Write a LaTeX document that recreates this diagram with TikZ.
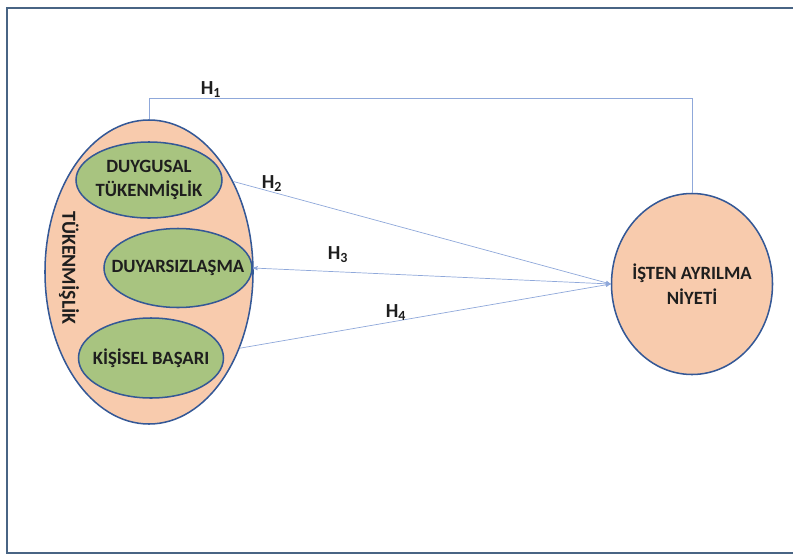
\documentclass[tikz,border=0pt]{standalone}
\usepackage{fontspec}
\setmainfont{Carlito}
\usepackage{tikz}
\usetikzlibrary{arrows,shapes.geometric}

\definecolor{peach}{RGB}{248,203,173}
\definecolor{leaf}{RGB}{168,196,128}
\definecolor{rim}{RGB}{52,88,150}
\definecolor{linkblue}{RGB}{143,168,218}
\definecolor{framegray}{RGB}{72,100,132}
\definecolor{ink}{RGB}{30,30,30}

\begin{document}
\begin{tikzpicture}[x=0.03cm, y=-0.03cm, >=stealth', auto,
    outer/.style={ellipse, draw=rim, line width=1.3pt, fill=peach, inner xsep=-2cm, inner ysep=-1cm},
    inner/.style={ellipse, draw=rim, line width=1.3pt, fill=leaf, inner xsep=-2cm, inner ysep=-1cm,
        align=center, text=ink, font=\fontsize{16}{21}\selectfont\bfseries},
    link/.style={draw=linkblue, line width=0.6pt},
    hlabel/.style={text=ink, font=\fontsize{17}{19}\selectfont\bfseries}]
    \useasboundingbox (0,0) rectangle (793,559);
    % Frame
    \draw [framegray, line width=1.6pt] (793,8) -- (7,8) -- (7,553) -- (793,553);

    % Nodes {tuk, duygu, duyar, basari, niyet}
    \node [outer, minimum width=6.24cm, minimum height=9.12cm] (tuk)    at (149,272) {};
    \node [inner, minimum width=4.38cm, minimum height=2.28cm] (duygu)  at (149,180) {DUYGUSAL\\TÜKENMİŞLİK};
    \node [inner, minimum width=4.44cm, minimum height=2.37cm] (duyar)  at (178,268) {DUYARSIZLAŞMA};
    \node [inner, minimum width=4.35cm, minimum height=2.40cm] (basari) at (151,358) {KİŞİSEL BAŞARI};
    \node [outer, minimum width=4.83cm, minimum height=5.43cm, align=center, text=ink,
           font=\fontsize{16}{21}\selectfont\bfseries] (niyet) at (692,284) {İŞTEN AYRILMA\\NİYETİ};
    \node [rotate=-90, text=ink, font=\fontsize{17}{19}\selectfont\bfseries] (tuklabel) at (69,268) {TÜKENMİŞLİK};

    % Paths
    \draw [link] (tuk.north) -- ++(0,-21) -| (niyet.north);
    \node [hlabel] (h1) at (211,90) {H\textsubscript{1}};
    \draw [->, link] (tuk.47) -- (niyet.west);
    \draw [<->, link] (duyar.east) -- (niyet.west);
    \draw [->, link] (tuk.-40) -- (niyet.west);
    \node [hlabel] (h2) at (272,184) {H\textsubscript{2}};
    \node [hlabel] (h3) at (338,255) {H\textsubscript{3}};
    \node [hlabel] (h4) at (396,313) {H\textsubscript{4}};
\end{tikzpicture}
\end{document}
